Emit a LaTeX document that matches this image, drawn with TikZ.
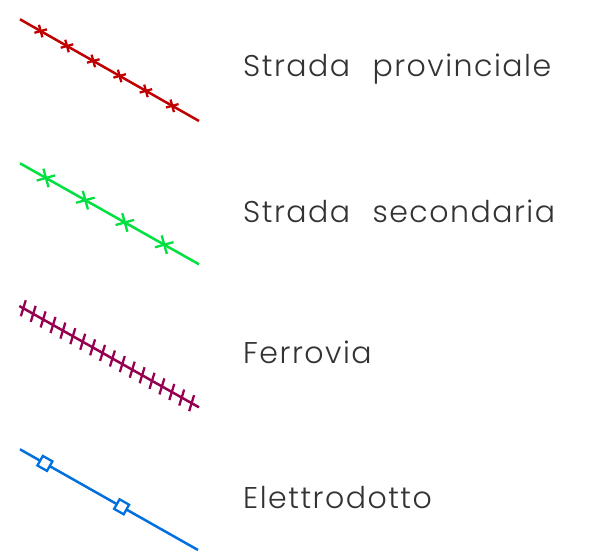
\documentclass[tikz,border=0pt]{standalone}
\usepackage{fontspec}
\IfFontExistsTF{Poppins Light}
  {\newfontfamily\legendfont{Poppins Light}[LetterSpace=5,WordSpace=2.3]}
  {\newfontfamily\legendfont{Poppins}[LetterSpace=5,WordSpace=2.3]}
\usetikzlibrary{decorations.markings}
\definecolor{cRed}{RGB}{192,0,0}
\definecolor{cGreen}{RGB}{0,224,64}
\definecolor{cMag}{RGB}{150,0,80}
\definecolor{cBlue}{RGB}{0,112,224}
\tikzset{
  legline/.style={line width=2.5pt},
  markline/.style={line width=2.3pt},
  legtext/.style={anchor=base west, inner sep=0pt, font=\legendfont\fontsize{30}{30}\selectfont, text=black!80}
}
\begin{document}
\begin{tikzpicture}[x=1pt,y=-1pt]
\useasboundingbox (0,0) rectangle (599,550);
% Strada provinciale
\draw[legline, cRed, postaction={decorate, decoration={markings,
   mark=between positions 0.1156 and 0.86 step 0.147 with {\draw[markline, cRed] (-4.6,-4.6)--(4.6,4.6) (-4.6,4.6)--(4.6,-4.6);}}}]
   (20,19.3) -- (199,121);
\node[legtext] (t1) at (243,76) {Strada provinciale};
% Strada secondaria
\draw[legline, cGreen, postaction={decorate, decoration={markings,
   mark=between positions 0.145 and 0.81 step 0.2203 with {\draw[markline, cGreen] (-6.8,-6.8)--(6.8,6.8) (-6.8,6.8)--(6.8,-6.8);}}}]
   (20,163.3) -- (199,264.3);
\node[legtext] (t2) at (243,222.5) {Strada secondaria};
% Ferrovia
\draw[legline, cMag, postaction={decorate, decoration={markings,
   mark=between positions 0.0223 and 0.965 step 0.0551 with {\draw[markline, cMag] (-1.8,-8.2)--(1.8,8.2);}}}]
   (19.3,306) -- (199,407.3);
\node[legtext] (t3) at (243,363.3) {Ferrovia};
% Elettrodotto
\draw[legline, cBlue, postaction={decorate, decoration={markings,
   mark=at position 0.14 with {\draw[markline, cBlue, fill=white] (-5.5,-5.5) rectangle (5.5,5.5);},
   mark=at position 0.571 with {\draw[markline, cBlue, fill=white] (-5.5,-5.5) rectangle (5.5,5.5);}}}]
   (20,449.3) -- (198,550);
\node[legtext] (t4) at (243,508.3) {Elettrodotto};
\end{tikzpicture}
\end{document}
